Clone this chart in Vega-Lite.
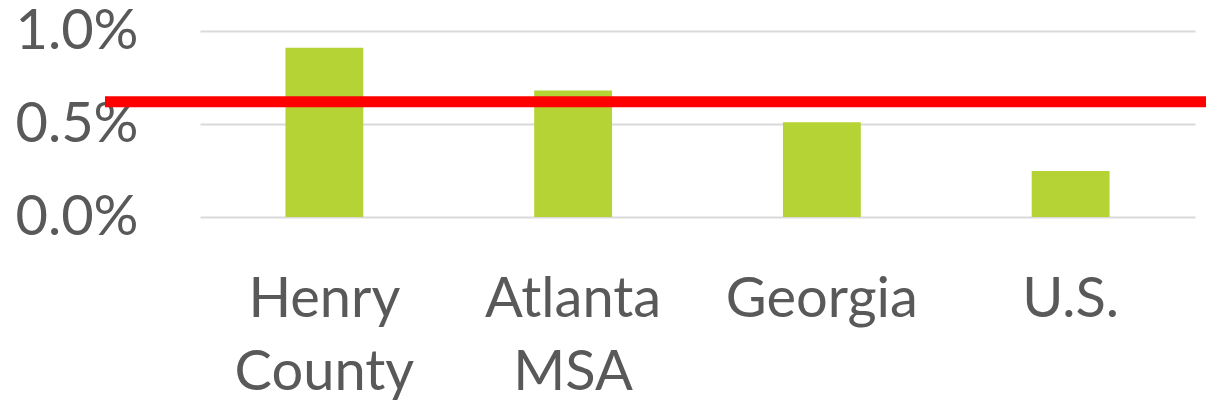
{
  "$schema": "https://vega.github.io/schema/vega-lite/v6.json",
  "autosize": "none",
  "width": 995,
  "height": 186,
  "padding": {"left": 200, "top": 31, "right": 11, "bottom": 194},
  "background": "white",
  "config": {
    "view": {"stroke": null},
    "axis": {"labelFont": "Lato", "labelColor": "#595959", "labelFontSize": 56, "labelLimit": 0}
  },
  "data": {
    "values": [
      {"area": "Henry County", "rate": 0.0091},
      {"area": "Atlanta MSA", "rate": 0.0068},
      {"area": "Georgia", "rate": 0.0051},
      {"area": "U.S.", "rate": 0.00247}
    ]
  },
  "layer": [
    {
      "mark": {"type": "bar", "color": "#b5d334"},
      "encoding": {
        "x": {
          "field": "area", "type": "nominal", "sort": null,
          "scale": {"paddingInner": 0.687, "paddingOuter": 0.3435},
          "axis": {
            "title": null, "domain": false, "ticks": false, "labelAngle": 0,
            "labelPadding": 55, "labelLineHeight": 73, "labelLimit": 0,
            "labelExpr": "split(datum.label, ' ')"
          }
        },
        "y": {
          "field": "rate", "type": "quantitative",
          "scale": {"domain": [0, 0.01]},
          "axis": {
            "title": null, "format": ".1%", "values": [0, 0.005, 0.01],
            "domain": false, "ticks": false, "labelPadding": 62,
            "grid": true, "gridColor": "#d9d9d9", "gridWidth": 2
          }
        }
      }
    },
    {
      "data": {"values": [{"benchmark": 0.0062}]},
      "mark": {"type": "rule", "color": "#ff0000", "strokeWidth": 11, "clip": false},
      "encoding": {
        "y": {"field": "benchmark", "type": "quantitative"},
        "x": {"datum": -0.0955, "type": "quantitative", "scale": {"domain": [0, 1]}, "axis": null},
        "x2": {"datum": 1.0111}
      }
    }
  ],
  "resolve": {"scale": {"x": "independent"}}
}
